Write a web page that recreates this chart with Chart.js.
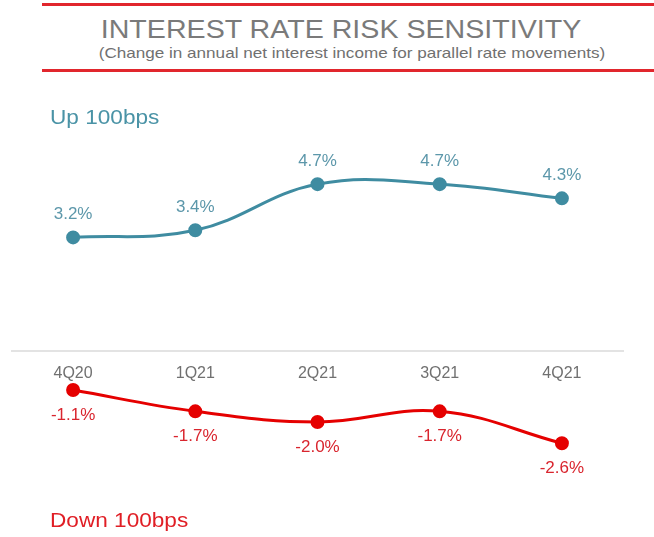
<!DOCTYPE html>
<html lang="en">
<head>
    <meta charset="UTF-8">
    <title>Interest Rate Risk Sensitivity</title>
    <script src="https://cdn.jsdelivr.net/npm/chart.js"></script>
    <style>
        body {
            margin: 0;
            width: 654px;
            height: 537px;
            background: #fff;
            font-family: 'Liberation Sans', Arial, sans-serif;
            position: relative;
            overflow: hidden;
        }

        /* Header band with red rules */
        #header {
            position: absolute;
            left: 42px;
            top: 3px;
            width: 612px;
            height: 63px;
            border-top: 3px solid #e1262d;
            border-bottom: 3px solid #e1262d;
            text-align: center;
        }

        #header h1 {
            margin: 8px 0 0 0;
            font-size: 26px;
            font-weight: normal;
            color: #7a7a7a;
            line-height: 30px;
            transform: translateX(-7px) scaleX(1.1);
        }

        #header p {
            margin: 0;
            font-size: 15px;
            color: #707070;
            line-height: 18px;
            transform: translateX(4px) scaleX(1.14);
        }

        .series-label {
            position: absolute;
            left: 50px;
            font-size: 20px;
            transform: scaleX(1.13);
            transform-origin: left center;
        }

        #upLabel { top: 106px; color: #4a93a6; }
        #downLabel { top: 509px; color: #e01e25; }

        #chartBox {
            position: absolute;
            left: 0;
            top: 0;
            width: 654px;
            height: 537px;
        }
    </style>
</head>
<body>

    <div id="header">
        <h1>INTEREST RATE RISK SENSITIVITY</h1>
        <p>(Change in annual net interest income for parallel rate movements)</p>
    </div>

    <div id="chartBox">
        <canvas id="rateChart" width="654" height="537"></canvas>
    </div>

    <div id="upLabel" class="series-label">Up 100bps</div>
    <div id="downLabel" class="series-label">Down 100bps</div>

    <script>
        // Dati
        const quarters = ['4Q20', '1Q21', '2Q21', '3Q21', '4Q21'];
        const up100 = [3.2, 3.4, 4.7, 4.7, 4.3];
        const down100 = [-1.1, -1.7, -2.0, -1.7, -2.6];

        const upColor = '#3f8ca1';
        const downColor = '#e50000';

        // Etichette dei valori sopra / sotto i punti
        const valueLabels = {
            id: 'valueLabels',
            afterDatasetsDraw(chart) {
                const ctx = chart.ctx;
                ctx.save();
                ctx.font = '17px "Liberation Sans", Arial, sans-serif';
                ctx.textAlign = 'center';
                ctx.textBaseline = 'middle';
                chart.data.datasets.forEach((ds, i) => {
                    const meta = chart.getDatasetMeta(i);
                    meta.data.forEach((pt, j) => {
                        const v = ds.data[j];
                        const dy = v >= 0 ? -23 : 25;
                        ctx.fillStyle = ds.labelColor;
                        ctx.fillText(v.toFixed(1) + '%', pt.x, pt.y + dy);
                    });
                });
                ctx.restore();
            }
        };

        const ctx = document.getElementById('rateChart').getContext('2d');
        new Chart(ctx, {
            type: 'line',
            data: {
                labels: quarters,
                datasets: [
                    {
                        label: 'Up 100bps',
                        data: up100,
                        borderColor: upColor,
                        backgroundColor: upColor,
                        labelColor: '#5c97aa',
                        borderWidth: 3,
                        pointRadius: 5.5,
                        pointHoverRadius: 5.5,
                        tension: 0.4
                    },
                    {
                        label: 'Down 100bps',
                        data: down100,
                        borderColor: downColor,
                        backgroundColor: downColor,
                        labelColor: '#d9252e',
                        borderWidth: 3,
                        pointRadius: 5.5,
                        pointHoverRadius: 5.5,
                        tension: 0.4
                    }
                ]
            },
            options: {
                responsive: false,
                animation: false,
                layout: {
                    padding: { left: 12, right: 31, top: 138, bottom: 44 }
                },
                plugins: {
                    legend: { display: false },
                    tooltip: { enabled: false }
                },
                scales: {
                    x: {
                        position: { y: 0 },
                        offset: true,
                        grid: { display: false, drawTicks: false },
                        border: { display: true, color: '#e3e3e3', width: 2 },
                        ticks: {
                            color: '#707070',
                            padding: 13,
                            font: { size: 16, family: '"Liberation Sans", Arial, sans-serif' }
                        }
                    },
                    y: {
                        display: false,
                        min: -4,
                        max: 6
                    }
                }
            },
            plugins: [valueLabels]
        });
    </script>
</body>
</html>
